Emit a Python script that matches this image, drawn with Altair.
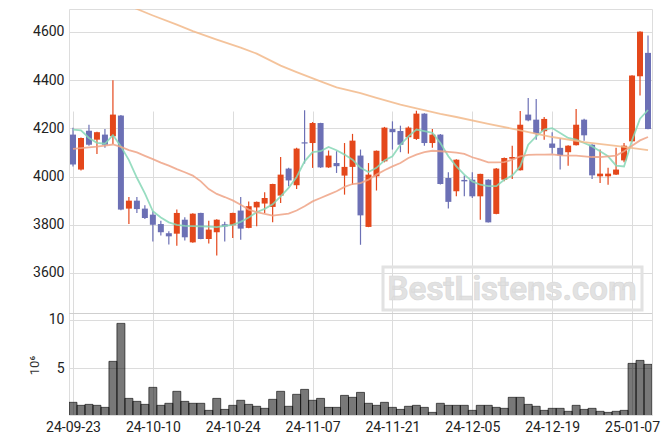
import altair as alt
import pandas as pd

dates = ["2024-09-23","2024-09-24","2024-09-25","2024-09-26","2024-09-27","2024-09-30",
         "2024-10-02","2024-10-04","2024-10-07","2024-10-08","2024-10-10","2024-10-11",
         "2024-10-14","2024-10-15","2024-10-16","2024-10-17","2024-10-18","2024-10-21",
         "2024-10-22","2024-10-23","2024-10-24","2024-10-25","2024-10-28","2024-10-29",
         "2024-10-30","2024-10-31","2024-11-01","2024-11-04","2024-11-05","2024-11-06",
         "2024-11-07","2024-11-08","2024-11-11","2024-11-12","2024-11-13","2024-11-14",
         "2024-11-15","2024-11-18","2024-11-19","2024-11-20","2024-11-21","2024-11-22",
         "2024-11-25","2024-11-26","2024-11-27","2024-11-28","2024-11-29","2024-12-02",
         "2024-12-03","2024-12-04","2024-12-05","2024-12-06","2024-12-09","2024-12-10",
         "2024-12-11","2024-12-12","2024-12-13","2024-12-16","2024-12-17","2024-12-18",
         "2024-12-19","2024-12-20","2024-12-23","2024-12-24","2024-12-26","2024-12-27",
         "2024-12-30","2025-01-02","2025-01-03","2025-01-06","2025-01-07","2025-01-08",
         "2025-01-09"]

open_ = [4174,4029,4190,4153,4174,4167,4253,3867,3900,3867,3842,3803,3765,3763,3821,3727,
         3849,3741,3769,3802,3798,3859,3787,3872,3888,3874,3921,4033,3964,4142,4139,4222,
         4038,4056,4004,4040,4087,3791,4001,4063,4197,4189,4163,4156,4261,4139,4174,3994,
         3939,3986,3987,3918,3987,3845,3987,4074,4026,4257,4236,4188,4137,4119,4101,4130,
         4236,4132,4001,4001,4008,4067,4146,4416,4513]
high = [4202,4162,4215,4186,4197,4399,4255,3915,3915,3881,3856,3817,3773,3863,3831,3848,
        3850,3817,3823,3812,3850,3915,3897,3897,3935,3970,4081,4037,4119,4275,4226,4223,
        4108,4105,4139,4177,4112,4056,4108,4206,4229,4211,4208,4273,4263,4197,4177,4018,
        4072,4004,4018,4012,3989,4035,4079,4128,4272,4326,4322,4247,4184,4160,4130,4280,
        4240,4134,4112,4036,4119,4139,4420,4603,4585]
low = [4042,4025,4128,4094,4119,4135,3860,3803,3849,3824,3731,3755,3718,3713,3735,3725,
       3740,3722,3672,3731,3745,3738,3786,3794,3849,3810,3890,3960,3948,4054,4036,4036,
       4036,4015,3925,3966,3717,3790,3942,4059,4112,4101,4095,4152,4128,4119,3967,3867,
       3918,3918,3911,3821,3809,3844,3980,3990,4025,4229,4153,4153,4095,4029,4045,4129,
       4149,3990,3973,3966,4006,4059,4145,4336,4196]
close = [4050,4160,4132,4184,4132,4257,3863,3900,3865,3828,3800,3769,3752,3849,3748,3846,
         3741,3780,3821,3793,3849,3784,3877,3895,3911,3969,4008,3984,4116,4137,4222,4038,
         4087,4043,4040,4149,3839,4008,4107,4203,4184,4132,4203,4261,4139,4174,3969,3895,
         4070,3980,3918,4011,3810,4033,4077,4081,4215,4233,4178,4239,4119,4088,4128,4215,
         4171,4005,4012,4012,4029,4128,4419,4601,4197]
volume = [1.48,1.17,1.27,1.17,0.96,5.72,9.65,1.89,1.58,1.27,3.03,1.17,1.38,2.62,1.58,1.38,
          1.38,0.65,1.89,0.75,1.17,1.69,1.27,1.07,0.86,1.79,2.62,1.07,2.31,2.82,1.69,1.89,
          0.96,0.96,2.20,2.00,2.51,1.38,1.17,1.48,0.96,0.75,1.07,1.17,0.96,0.44,1.38,1.17,
          1.17,1.17,0.65,1.17,1.17,0.96,0.86,2.00,2.00,1.27,1.07,0.65,0.86,0.86,0.55,1.17,
          0.75,0.86,0.55,0.44,0.55,0.65,5.51,5.82,5.41]
ma5 = [4195,4192,4160,4140,4136,4172,4125,4068,3995,3930,3856,3830,3810,3800,3795,3794,
       3793,3792,3790,3795,3800,3812,3830,3852,3866,3885,3918,3953,3998,4063,4101,4105,
       4123,4109,4091,4070,4036,4019,4036,4067,4084,4132,4167,4195,4188,4181,4139,4084,
       4042,4008,3980,3966,3960,3960,3987,4004,4042,4132,4167,4195,4201,4181,4160,4153,
       4139,4125,4105,4084,4045,4042,4150,4240,4276]
ma20 = [4115,4118,4121,4124,4128,4133,4123,4110,4100,4086,4072,4058,4045,4031,4018,4004,
        3980,3948,3928,3915,3901,3883,3863,3852,3845,3838,3842,3846,3859,3877,3897,3911,
        3925,3939,3957,3969,3973,3987,4008,4026,4042,4056,4077,4091,4101,4107,4105,4102,
        4099,4094,4080,4070,4059,4059,4060,4070,4084,4090,4091,4091,4092,4088,4087,4087,
        4084,4081,4081,4084,4087,4105,4128,4150,4164]
ma60_idx = [6, 8, 10, 13, 15, 18, 21, 23, 26, 28, 31, 33, 36, 38, 41, 43, 46, 48, 52, 56,
            60, 64, 68, 72]
ma60 = [4725,4695,4668,4630,4603,4568,4535,4510,4460,4433,4395,4370,4346,4326,4298,4283,
        4260,4247,4218,4192,4164,4143,4127,4110]

tick_idx = [0, 10, 20, 30, 40, 50, 60, 70]
price_ticks = [3600, 3800, 4000, 4200, 4400, 4600]
volume_ticks = [5, 10]
watermark = "BestListens.com"

n = len(dates)
assert all(len(a) == n for a in [open_, high, low, close, volume, ma5, ma20])

df = pd.DataFrame({"i": list(range(n)), "date": dates, "open": open_, "high": high,
                   "low": low, "close": close, "volume": volume,
                   "ma5": ma5, "ma20": ma20})
df60 = pd.DataFrame({"i": ma60_idx, "ma60": ma60})

tick_labels = [dates[k][2:] for k in tick_idx]
label_expr = "[" + ",".join("'%s'" % t for t in tick_labels) + "][round(datum.value/10)]"

FONT = "Roboto"
RED = "#e4471b"
BLUE = "#6c70b5"

W, H = 583, 406
PRICE_RANGE = [304, 0]
VOL_RANGE = [406, 305]

xscale = alt.Scale(domain=[-0.5, n - 0.5], nice=False, zero=False, padding=0)
xaxis = alt.Axis(values=tick_idx, labelExpr=label_expr, title=None, grid=True,
                 ticks=False, domain=False, labelPadding=5, labelFontSize=14,
                 labelFont=FONT, labelColor="#222", gridColor="#dcdcdc")
x_enc = alt.X("i:Q", scale=xscale, axis=xaxis)

pscale = alt.Scale(domain=[3434, 4695], range=PRICE_RANGE, nice=False, zero=False)
paxis = alt.Axis(values=price_ticks, format="d", title=None, grid=True, ticks=False,
                 domain=False, labelPadding=5, labelFontSize=14, labelFont=FONT,
                 labelColor="#222", gridColor="#dcdcdc", orient="left")

base = alt.Chart(df)
candle_color = alt.condition("datum.close >= datum.open", alt.value(RED), alt.value(BLUE))

wick = base.mark_rule(strokeWidth=1.2).encode(
    x=x_enc, y=alt.Y("low:Q", scale=pscale, axis=paxis), y2="high:Q", color=candle_color)
body = base.mark_bar(size=6).encode(
    x=alt.X("i:Q", scale=xscale), y=alt.Y("open:Q"), y2="close:Q", color=candle_color)
l5 = base.mark_line(color="#86d7b6", strokeWidth=1.8, opacity=0.85, clip=True).encode(
    x="i:Q", y="ma5:Q")
l20 = base.mark_line(color="#eea386", strokeWidth=1.8, opacity=0.85, clip=True).encode(
    x="i:Q", y="ma20:Q")
l60 = alt.Chart(df60).mark_line(color="#f2b889", strokeWidth=1.8, opacity=0.85,
                                clip=True).encode(x="i:Q", y="ma60:Q")

price = alt.layer(wick, body, l5, l20, l60)

vscale = alt.Scale(domain=[0.17, 10.62], range=VOL_RANGE, nice=False, zero=False)
vaxis = alt.Axis(values=volume_ticks, format="d", title="10⁶", grid=True, ticks=False,
                 domain=False, labelPadding=5, labelFontSize=14, labelFont=FONT,
                 labelColor="#222", gridColor="#dcdcdc", orient="left", titleFont=FONT,
                 titleFontSize=13, titleFontWeight="normal", titleColor="#333",
                 titleAngle=270, titleX=-35, titleY=356, titleAlign="center",
                 titleBaseline="middle")
vol = base.mark_bar(size=8, fill="#000", fillOpacity=0.53, stroke="#000",
                    strokeOpacity=0.6, strokeWidth=1, clip=True).encode(
    x=alt.X("i:Q", scale=xscale), y=alt.Y("volume:Q", scale=vscale, axis=vaxis),
    y2=alt.datum(0))

wm_box = alt.Chart(df.head(1)).mark_rect(fillOpacity=0, stroke="#e2e2e2",
                                         strokeWidth=3).encode(
    x=alt.value(314), x2=alt.value(573), y=alt.value(258), y2=alt.value(301))
wm_text = alt.Chart(df.head(1)).mark_text(text=watermark, font=FONT, fontSize=33,
                                          fontWeight="bold", color="#e2e2e2",
                                          stroke="#d8d8d8", strokeWidth=0.6,
                                          align="center", baseline="middle").encode(
    x=alt.value(443), y=alt.value(281))
sep = alt.Chart(df.head(1)).mark_rule(color="#cfcfcf", strokeWidth=1).encode(
    x=alt.value(0), x2=alt.value(W), y=alt.value(304.5))

chart = alt.layer(wm_box, wm_text, price, vol, sep).resolve_scale(
    y="independent").properties(
    width=W, height=H,
    autosize=alt.AutoSizeParams(type="none"),
    padding={"left": 69, "top": 9, "right": 18, "bottom": 29},
).configure_view(stroke="#d0d0d0", strokeWidth=1).configure(background="white")

chart.save("out.html", embed_options={"renderer": "svg", "actions": False})
